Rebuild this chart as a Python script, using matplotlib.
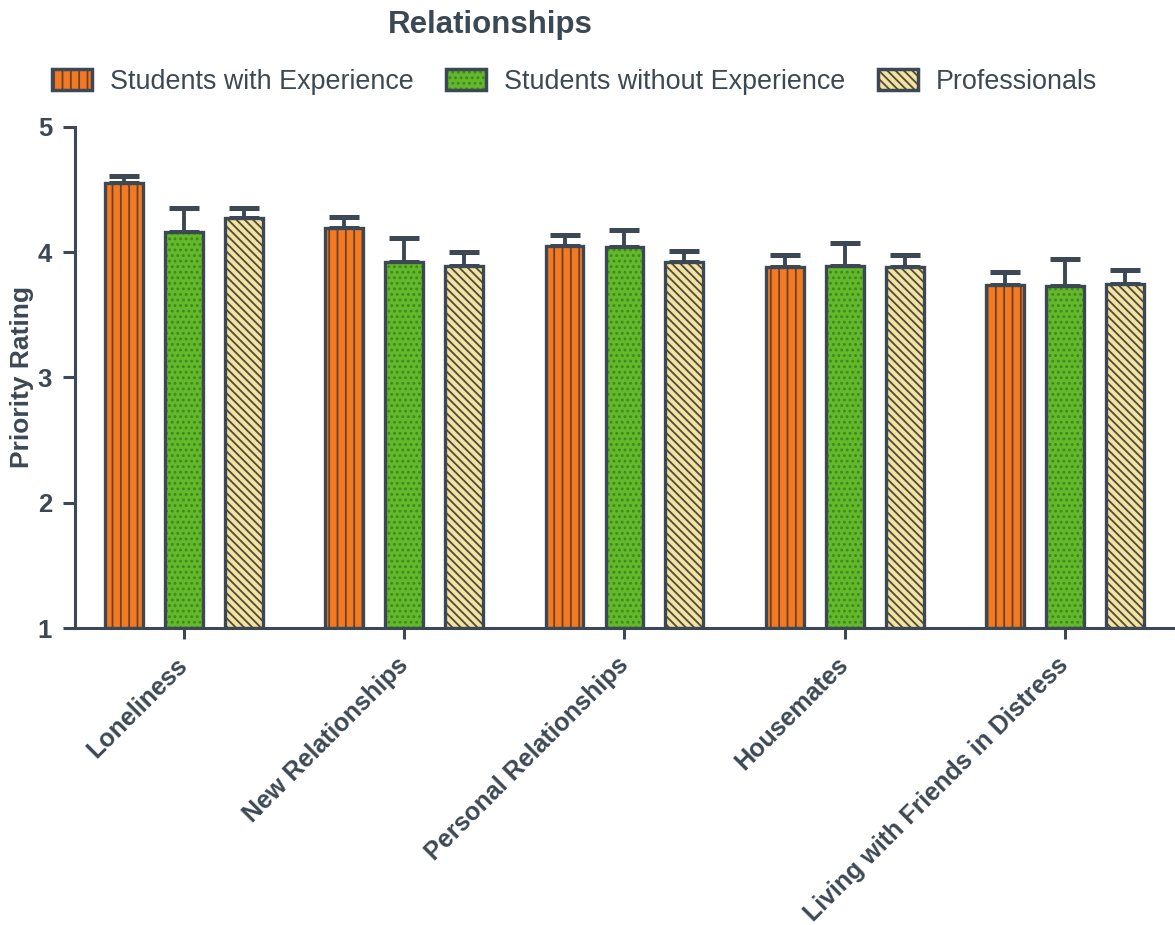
import matplotlib
matplotlib.use("Agg")
import matplotlib.pyplot as plt
import matplotlib.transforms as mtransforms
from matplotlib.patches import Patch
import numpy as np

# ---- data ----
categories = ["Loneliness", "New Relationships", "Personal Relationships",
              "Housemates", "Living with Friends in Distress"]
series_names = ["Students with Experience", "Students without Experience", "Professionals"]
with_exp = [4.55, 4.19, 4.05, 3.88, 3.74]
with_exp_err = [0.06, 0.09, 0.09, 0.10, 0.10]
without_exp = [4.16, 3.92, 4.04, 3.89, 3.73]
without_exp_err = [0.19, 0.19, 0.14, 0.18, 0.22]
professionals = [4.27, 3.89, 3.92, 3.88, 3.75]
professionals_err = [0.08, 0.11, 0.09, 0.10, 0.11]

# ---- style ----
INK = "#3c4853"
fills = ["#f47a22", "#63b82b", "#f3e3a3"]
hatch_cols = ["#6a4030", "#3f8a1c", "#4f4a3a"]
hatches = ["||", "...", "\\\\\\\\"]

plt.rcParams["font.family"] = ["Liberation Sans", "DejaVu Sans"]
plt.rcParams["hatch.linewidth"] = 1.3
plt.rcParams["text.color"] = INK

fig = plt.figure(figsize=(11.75, 9.25), dpi=100)
ax = fig.add_axes([75 / 1175, 1 - 628 / 925, 1 - 75 / 1175, (628 - 127) / 925])

x = np.arange(len(categories))
offsets = [-0.272, 0.0, 0.272]
width = 0.172
values = [with_exp, without_exp, professionals]
errors = [with_exp_err, without_exp_err, professionals_err]

handles = []
for i in range(3):
    pos = x + offsets[i]
    # upper error bars
    ax.errorbar(pos, values[i], yerr=[np.zeros(len(x)), errors[i]], fmt="none",
                ecolor=INK, elinewidth=2.8, capsize=11, capthick=3.6, zorder=1)
    # fill + hatch
    ax.bar(pos, np.array(values[i]) - 1, width, bottom=1, color=fills[i],
           edgecolor=hatch_cols[i], linewidth=0, hatch=hatches[i], zorder=2)
    # outline
    ax.bar(pos, np.array(values[i]) - 1, width, bottom=1, fill=False,
           edgecolor=INK, linewidth=2.4, zorder=3)
    h1 = Patch(facecolor=fills[i], edgecolor=hatch_cols[i], hatch=hatches[i], linewidth=0)
    h2 = Patch(fill=False, edgecolor=INK, linewidth=2.5)
    handles.append((h1, h2))

ax.set_ylim(1, 5)
ax.set_xlim(-0.495, 4.5)
ax.set_yticks([1, 2, 3, 4, 5])
ax.set_xticks(x)
ax.set_xticklabels(categories, rotation=45, ha="right", va="center",
                   rotation_mode="anchor", fontsize=18, fontweight="bold", color=INK)
shift = mtransforms.ScaledTranslation(4 / 100, 0, fig.dpi_scale_trans)
for lab in ax.get_xticklabels():
    lab.set_transform(lab.get_transform() + shift)
for lab in ax.get_yticklabels():
    lab.set_fontweight("bold")
ax.tick_params(axis="y", length=8.5, width=2.2, color=INK, labelsize=18.5,
               labelcolor=INK, pad=8)
ax.tick_params(axis="x", length=8, width=2.2, color=INK, pad=16)
for s in ["top", "right"]:
    ax.spines[s].set_visible(False)
for s in ["left", "bottom"]:
    ax.spines[s].set_color(INK)
    ax.spines[s].set_linewidth(2.2)
ax.set_ylabel("Priority Rating", fontsize=19, fontweight="bold", color=INK)
ax.yaxis.set_label_coords(-0.037, 0.5)

fig.text(490 / 1175, 1 - 25 / 925, "Relationships", ha="center", va="center",
         fontsize=22.5, fontweight="bold", color=INK)

fig.legend(handles, series_names, loc="center left",
           bbox_to_anchor=(52 / 1175, 1 - 82 / 925), ncol=3, frameon=False,
           fontsize=19.4, handlelength=1.5, handleheight=0.85, handletextpad=0.65,
           columnspacing=1.2, borderpad=0, borderaxespad=0, labelcolor=INK)

fig.savefig("out.png", dpi=100)
